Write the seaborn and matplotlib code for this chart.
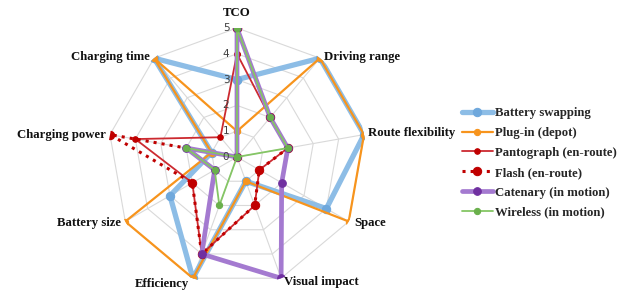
import numpy as np
import pandas as pd
import seaborn as sns
import matplotlib.pyplot as plt

# axes (clockwise from the top)
categories = ['TCO', 'Driving range', 'Route flexibility', 'Space', 'Visual impact',
              'Efficiency', 'Battery size', 'Charging power', 'Charging time']

battery_swapping = [3, 5, 5, 4, 1, 5, 3, 1, 5]
plug_in = [1, 5, 5, 5, 1, 5, 5, 1, 5]
pantograph = [4, 2, 2, 1, 2, 4, 2, 4, 1]
flash = [5, 2, 2, 1, 2, 4, 2, 5, 0]
catenary = [5, 2, 2, 2, 5, 4, 1, 2, 0]
wireless = [5, 2, 2, 0, 0, 2, 1, 2, 0]

series_names = ['Battery swapping', 'Plug-in (depot)', 'Pantograph (en-route)',
                'Flash (en-route)', 'Catenary (in motion)', 'Wireless (in motion)']
series_vals = [battery_swapping, plug_in, pantograph, flash, catenary, wireless]

# line colour, marker colour, line width, marker size, line style
styles = [
    ('#8dbde6', '#6fa8dc', 3.8, 6.0, '-'),
    ('#f7941d', '#f7941d', 1.6, 4.5, '-'),
    ('#cc2a30', '#c00000', 1.3, 4.0, '-'),
    ('#c00000', '#c00000', 2.2, 6.0, ':'),
    ('#a47ad0', '#7030a0', 3.4, 5.5, '-'),
    ('#85c665', '#6ab04c', 1.3, 4.5, '-'),
]

sns.set_theme(style='white')
plt.rcParams['font.family'] = ['Liberation Serif', 'DejaVu Serif']

n = len(categories)
theta = np.linspace(0, 2 * np.pi, n, endpoint=False)
theta_closed = np.append(theta, 2 * np.pi)

fig = plt.figure(figsize=(6.33, 2.95), dpi=100)
ax = fig.add_axes([0.1706, 0.0305, 0.4076, 0.8746], projection='polar')
ax.set_theta_zero_location('N')
ax.set_theta_direction(-1)
ax.grid(False)
ax.spines['polar'].set_visible(False)
ax.set_xticks([])
ax.set_yticks([])

# polygon grid + spokes
grid_c = '#d9d9d9'
for r in range(1, 6):
    ax.plot(theta_closed, [r] * (n + 1), color=grid_c, lw=0.8, zorder=1)
for t in theta:
    ax.plot([t, t], [0, 5], color=grid_c, lw=0.8, zorder=1)

for r in range(0, 6):
    ax.annotate(str(r), xy=(0, r), xytext=(-5.5, 0), textcoords='offset points',
                ha='right', va='center', fontsize=7.5, color='#404040',
                family='DejaVu Sans', zorder=20)

for i, (name, vals) in enumerate(zip(series_names, series_vals)):
    lc, mc, lw, ms, ls = styles[i]
    df = pd.DataFrame({'theta': theta_closed, 'r': vals + [vals[0]]})
    sns.lineplot(data=df, x='theta', y='r', ax=ax, sort=False, estimator=None,
                 color=lc, lw=lw, linestyle=ls, marker='o', markersize=ms,
                 markerfacecolor=mc, markeredgecolor=mc, label=name, zorder=3 + i)

ax.set_xlabel('')
ax.set_ylabel('')
ax.set_ylim(0, 5)

# category labels
label_pos = {
    'TCO': ((0, 11), 'center'),
    'Driving range': ((3, 1), 'left'),
    'Route flexibility': ((3, 1), 'left'),
    'Space': ((4, -1), 'left'),
    'Visual impact': ((2, -3), 'left'),
    'Efficiency': ((-3, -4), 'right'),
    'Battery size': ((-3, -1), 'right'),
    'Charging power': ((-3, 0), 'right'),
    'Charging time': ((-3, 1), 'right'),
}
for t, cat in zip(theta, categories):
    off, ha = label_pos[cat]
    ax.annotate(cat, xy=(t, 5), xytext=off, textcoords='offset points',
                ha=ha, va='center', fontsize=9.2, fontweight='bold',
                color='#111111', annotation_clip=False)

leg = ax.legend(loc='center left', bbox_to_anchor=(1.372, 0.477), frameon=False,
                fontsize=9.2, handlelength=2.4, labelspacing=0.62,
                handletextpad=0.15, borderaxespad=0, borderpad=0)
for txt in leg.get_texts():
    txt.set_fontweight('bold')

fig.savefig('out.png', dpi=100)
